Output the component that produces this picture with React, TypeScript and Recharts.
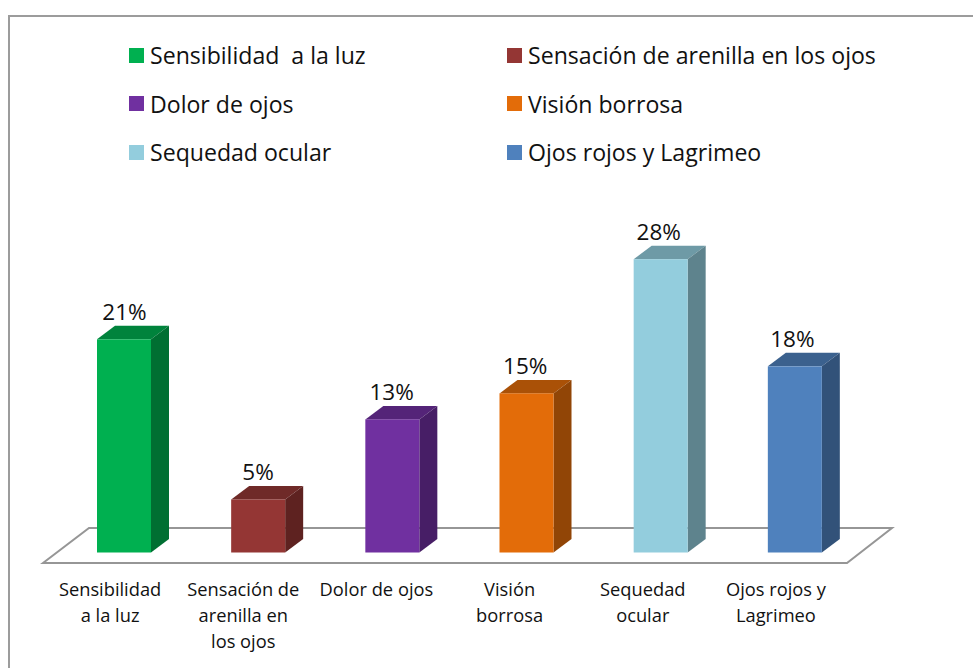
import React from 'react';
import { BarChart, Bar, XAxis, YAxis, Legend, LabelList, usePlotArea } from 'recharts';

const categories = ['Sensibilidad a la luz', 'Sensación de arenilla en los ojos', 'Dolor de ojos', 'Visión borrosa', 'Sequedad ocular', 'Ojos rojos y Lagrimeo'];
const legendNames = ['Sensibilidad  a la luz', 'Sensación de arenilla en los ojos', 'Dolor de ojos', 'Visión borrosa', 'Sequedad ocular', 'Ojos rojos y Lagrimeo'];
const tickLines = [
  ['Sensibilidad', 'a la luz'],
  ['Sensación de', 'arenilla en', 'los ojos'],
  ['Dolor de ojos'],
  ['Visión', 'borrosa'],
  ['Sequedad', 'ocular'],
  ['Ojos rojos y', 'Lagrimeo'],
];
const values = [20.5, 5.1, 12.8, 15.3, 28.2, 17.9];

const FRONT = ['#00B050', '#943634', '#7030A0', '#E36C09', '#93CDDD', '#4F81BD'];
const TOP = ['#00833C', '#6F2A28', '#542478', '#AA5107', '#6E9AA6', '#3B618E'];
const SIDE = ['#006F32', '#5E2220', '#471E66', '#914506', '#5E838D', '#325279'];

const FONT = '"Open Sans", sans-serif';
const DX = 18;
const DY = 13.5;

const data = categories.map((name, i) => ({ name, value: values[i] }));

const Floor = () => {
  const plot = usePlotArea();
  if (!plot) return null;
  const l = plot.x;
  const r = plot.x + plot.width;
  const b = plot.y + plot.height;
  const pts = [[l - 14, b + 10.5], [l + 32, b - 24.5], [r + 30, b - 24.5], [r - 15, b + 10.5]];
  return <polygon points={pts.map((p) => p.join(',')).join(' ')} fill="#fff" stroke="#969696" strokeWidth={2} />;
};

const Box3D = ({ x, y, width, height, index }) => (
  <g>
    <polygon points={`${x},${y} ${x + DX},${y - DY} ${x + width + DX},${y - DY} ${x + width},${y}`} fill={TOP[index]} />
    <polygon points={`${x + width},${y} ${x + width + DX},${y - DY} ${x + width + DX},${y + height - DY} ${x + width},${y + height}`} fill={SIDE[index]} />
    <rect x={x} y={y} width={width} height={height} fill={FRONT[index]} />
  </g>
);

const BarLabel = ({ x, y, width, value, index }) => (
  <text x={x + width / 2 + 0.5 - index * 0.6} y={y - 19.5} textAnchor="middle" fontSize={22.5} fontFamily={FONT} fill="#111">
    {Math.round(value)}%
  </text>
);

const CategoryTick = ({ x, y, index }) => (
  <text textAnchor="middle" fontSize={18.3} fontFamily={FONT} fill="#111">
    {tickLines[index].map((line, i) => (
      <tspan key={i} x={x - 14 - index} y={y + 35 + i * 26}>{line}</tspan>
    ))}
  </text>
);

const LegendBox = () => (
  <div style={{ display: 'grid', gridTemplateColumns: '378px 378px', gridAutoRows: '48.5px', fontFamily: FONT, fontSize: 23.1, color: '#111' }}>
    {legendNames.map((name, i) => (
      <div key={name} style={{ display: 'flex', alignItems: 'center', whiteSpace: 'pre' }}>
        <span style={{ width: 15, height: 15, background: FRONT[i], marginRight: 6, flex: 'none' }} />
        {name}
      </div>
    ))}
  </div>
);

export default function App() {
  return (
    <div style={{ position: 'absolute', left: 0, top: 0, width: 973, height: 668, overflow: 'hidden', background: '#fff' }}>
      <div style={{ position: 'absolute', left: 8, top: 15, width: 1000, height: 700, borderLeft: '2px solid #9c9c9c', borderTop: '2px solid #9c9c9c' }} />
      <BarChart
        width={973}
        height={668}
        data={data}
        margin={{ top: 100.5, right: 111, bottom: 0.5, left: 57 }}
        style={{ position: 'absolute', left: 0, top: 0 }}
      >
        <Legend
          verticalAlign="top"
          height={140}
          content={<LegendBox />}
          wrapperStyle={{ top: 31, left: 129, width: 760 }}
        />
        <XAxis dataKey="name" interval={0} height={115} axisLine={false} tickLine={false} tick={CategoryTick} />
        <YAxis hide domain={[0, 30]} />
        <Floor />
        <Bar dataKey="value" barSize={54} shape={Box3D} isAnimationActive={false}>
          <LabelList dataKey="value" content={BarLabel} />
        </Bar>
      </BarChart>
    </div>
  );
}
